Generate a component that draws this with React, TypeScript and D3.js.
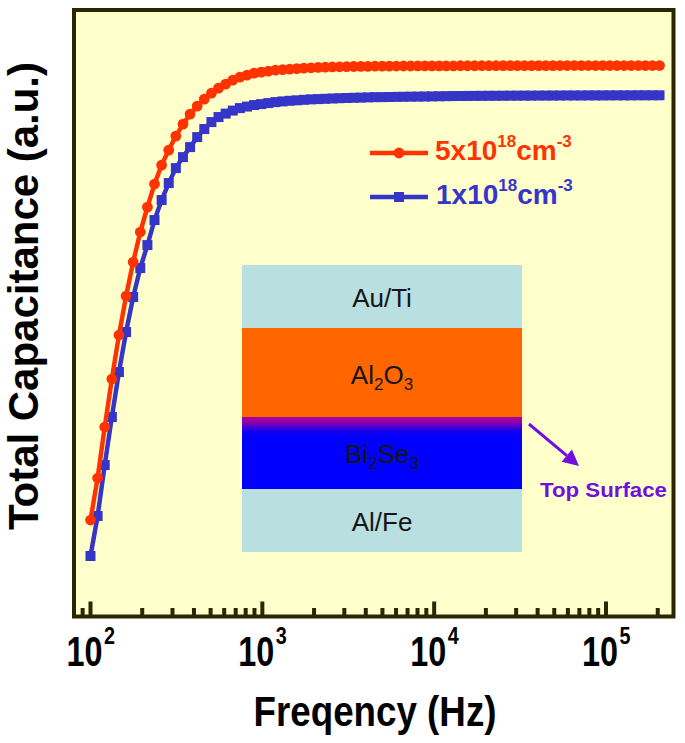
import React from 'react';
import * as d3 from 'd3';

// Frequency grid (Hz)
const frequencies = [100,110,121,133.1,146.41,161.05,177.16,194.87,214.36,235.79,259.37,285.31,313.84,345.23,379.75,417.72,459.5,505.45,555.99,611.59,672.75,740.02,814.03,895.43,984.97,1083.5,1191.8,1311,1442.1,1586.3,1745,1919.4,2111.4,2322.5,2554.8,2810.2,3091.3,3400.4,3740.4,4114.5,4525.9,4978.5,5476.4,6024,6626.4,7289,8017.9,8819.7,9701.7,10672,11739,12913,14204,15625,17187,18906,20797,22876,25164,27680,30448,33493,36842,40527,44579,49037,53940,59334,65268,71795,78974,86871,95558,105114,115626,127188,139907,153897,169287,186216,204838];

// Total capacitance (a.u.), 5x10^18 cm^-3
const capHigh = [17.45,25.09,34.36,43.09,51.09,58.18,64.36,69.82,74.36,78.55,
  82.0,84.73,87.27,89.45,91.27,92.73,94.0,95.09,96.0,96.73,
  97.45,98.0,98.36,98.73,98.91,99.09,99.27,99.36,99.45,99.55,
  99.64,99.69,99.75,99.8,99.84,99.87,99.91,99.93,99.95,99.96,
  99.98,100.0,100.0,100.01,100.02,100.02,100.03,100.03,100.04,100.04,
  100.05,100.05,100.06,100.06,100.06,100.07,100.07,100.07,100.08,100.08,
  100.08,100.08,100.09,100.09,100.09,100.09,100.1,100.1,100.1,100.1,
  100.1,100.1,100.1,100.1,100.1,100.1,100.1,100.1,100.1,100.1,100.1];

// Total capacitance (a.u.), 1x10^18 cm^-3
const capLow = [10.91,18.18,27.45,36.18,44.36,51.64,58.0,63.27,67.45,72.0,
  75.64,78.73,81.45,83.45,85.27,87.09,88.55,89.82,90.73,91.36,
  91.91,92.36,92.64,92.91,93.09,93.27,93.45,93.58,93.69,93.78,
  93.87,93.95,94.0,94.05,94.11,94.16,94.2,94.24,94.27,94.31,
  94.35,94.36,94.38,94.4,94.42,94.44,94.45,94.47,94.49,94.51,
  94.53,94.55,94.56,94.57,94.58,94.59,94.6,94.6,94.61,94.62,
  94.62,94.63,94.63,94.64,94.64,94.65,94.65,94.66,94.66,94.66,
  94.67,94.67,94.67,94.68,94.68,94.68,94.68,94.69,94.69,94.69,94.69];

const majorTicks = [100, 1000, 10000, 100000];
const majorExponents = ['2', '3', '4', '5'];
const minorTicks = [90, 200, 300, 400, 500, 600, 700, 800, 900, 2000, 3000, 4000, 5000, 6000, 7000, 8000, 9000, 20000, 30000, 40000, 50000, 60000, 70000, 80000, 90000, 200000];

const seriesNames = ['5x10', '1x10'];
const layers = ['Au/Ti', 'Al2O3', 'Bi2Se3', 'Al/Fe'];

const RED = '#ff3300';
const BLUE = '#3535c8';
const FRAME = '#2a2600';
const PURPLE = '#7010e0';
const FONT = "'Liberation Sans', Arial, sans-serif";

export default function App() {
  const left = 74, right = 673.5, top = 10, bottom = 616.5;
  const x = d3.scaleLog().domain([100, 100000]).range([90.5, 606]);
  const y = d3.scaleLinear().domain([0, 110.2]).range([616, 10]);
  const line = d3.line<number>().x((_, i) => x(frequencies[i])).y((d) => y(d));

  // inset geometry
  const ix0 = 242, ix1 = 522;
  const iy = [265, 328, 417, 489, 552];
  const icx = (ix0 + ix1) / 2;

  // arrow
  const ax0 = 529, ay0 = 424, ax1 = 579, ay1 = 466;
  const ang = Math.atan2(ay1 - ay0, ax1 - ax0);
  const hl = 16, hw = 8;
  const bx = ax1 - hl * Math.cos(ang), by = ay1 - hl * Math.sin(ang);
  const head = [
    [ax1, ay1],
    [bx + hw * Math.sin(ang), by - hw * Math.cos(ang)],
    [bx - hw * Math.sin(ang), by + hw * Math.cos(ang)],
  ].map((p) => p.join(',')).join(' ');

  const ms = 10; // square marker side
  const mr = 5.4; // circle marker radius

  return (
    <svg width={685} height={743} style={{ position: 'absolute', left: 0, top: 0, background: '#fff' }} fontFamily={FONT}>
      <defs>
        <linearGradient id="bise" x1="0" y1="0" x2="0" y2="1">
          <stop offset="0" stopColor="#a6009c" />
          <stop offset="0.06" stopColor="#9a00a6" />
          <stop offset="0.2" stopColor="#1000f0" />
          <stop offset="0.3" stopColor="#0000ff" />
          <stop offset="1" stopColor="#0000ff" />
        </linearGradient>
        <clipPath id="plotclip">
          <rect x={left} y={top} width={right - left} height={bottom - top} />
        </clipPath>
      </defs>
      <rect x={left} y={top} width={right - left} height={bottom - top} fill="#ffffcc" />

      {/* ticks */}
      {minorTicks.map((t) => (
        <line key={'mi' + t} x1={x(t)} x2={x(t)} y1={bottom} y2={bottom - 8.5} stroke={FRAME} strokeWidth={4} />
      ))}
      {majorTicks.map((t) => (
        <line key={'ma' + t} x1={x(t)} x2={x(t)} y1={bottom} y2={bottom - 15} stroke={FRAME} strokeWidth={4} />
      ))}

      {/* inset layer stack */}
      <rect x={ix0} y={iy[0]} width={ix1 - ix0} height={iy[1] - iy[0]} fill="#b9dfe1" />
      <rect x={ix0} y={iy[1]} width={ix1 - ix0} height={iy[2] - iy[1]} fill="#ff6600" />
      <rect x={ix0} y={iy[2]} width={ix1 - ix0} height={iy[3] - iy[2]} fill="url(#bise)" />
      <rect x={ix0} y={iy[3]} width={ix1 - ix0} height={iy[4] - iy[3]} fill="#b9dfe1" />
      <g fill="#151515" fontSize={26} textAnchor="middle">
        <text x={icx} y={307}>{layers[0]}</text>
        <text x={icx} y={384}>Al<tspan fontSize={17} dy={6}>2</tspan><tspan fontSize={26} dy={-6}>O</tspan><tspan fontSize={17} dy={6}>3</tspan></text>
        <text x={icx} y={463}>Bi<tspan fontSize={17} dy={6}>2</tspan><tspan fontSize={26} dy={-6}>Se</tspan><tspan fontSize={17} dy={6}>3</tspan></text>
        <text x={icx} y={531}>{layers[3]}</text>
      </g>

      {/* arrow + label */}
      <line x1={ax0} y1={ay0} x2={bx} y2={by} stroke={PURPLE} strokeWidth={3} />
      <polygon points={head} fill={PURPLE} />
      <text x={540} y={497} fontSize={21} fontWeight="bold" fill={PURPLE} textLength={127} lengthAdjust="spacingAndGlyphs">Top Surface</text>

      {/* curves */}
      <g clipPath="url(#plotclip)">
        <path d={line(capLow) || ''} fill="none" stroke={BLUE} strokeWidth={4.5} />
        {capLow.map((v, i) => (
          <rect key={'b' + i} x={x(frequencies[i]) - ms / 2} y={y(v) - ms / 2} width={ms} height={ms} fill={BLUE} />
        ))}
        <path d={line(capHigh) || ''} fill="none" stroke={RED} strokeWidth={4.5} />
        {capHigh.map((v, i) => (
          <circle key={'r' + i} cx={x(frequencies[i])} cy={y(v)} r={mr} fill={RED} />
        ))}
      </g>

      {/* legend */}
      <line x1={370} x2={428} y1={153} y2={153} stroke={RED} strokeWidth={4.5} />
      <circle cx={399} cy={153} r={mr} fill={RED} />
      <text x={435} y={160} fontSize={28} fontWeight="bold" fill={RED}>
        {seriesNames[0]}<tspan fontSize={17} dy={-13}>18</tspan><tspan fontSize={28} dy={13}>cm</tspan><tspan fontSize={17} dy={-13}>-3</tspan>
      </text>
      <line x1={370} x2={428} y1={197} y2={197} stroke={BLUE} strokeWidth={4.5} />
      <rect x={399 - ms / 2} y={197 - ms / 2} width={ms} height={ms} fill={BLUE} />
      <text x={436} y={204} fontSize={28} fontWeight="bold" fill={BLUE}>
        {seriesNames[1]}<tspan fontSize={17} dy={-13}>18</tspan><tspan fontSize={28} dy={13}>cm</tspan><tspan fontSize={17} dy={-13}>-3</tspan>
      </text>

      {/* frame */}
      <rect x={left} y={top} width={right - left} height={bottom - top} fill="none" stroke={FRAME} strokeWidth={4} />

      {/* x tick labels */}
      {majorTicks.map((t, i) => (
        <g key={'lab' + t} fontWeight="bold" fill="#000">
          <text x={x(t) - 24} y={666} fontSize={42} textLength={36} lengthAdjust="spacingAndGlyphs">10</text>
          <text x={x(t) + 13.5} y={644} fontSize={24} textLength={11} lengthAdjust="spacingAndGlyphs">{majorExponents[i]}</text>
        </g>
      ))}

      {/* axis titles */}
      <text x={375} y={726} fontSize={42} fontWeight="bold" textAnchor="middle" textLength={243} lengthAdjust="spacingAndGlyphs">Freqency (Hz)</text>
      <text transform="translate(38,296) rotate(-90)" fontSize={43} fontWeight="bold" textAnchor="middle" textLength={468} lengthAdjust="spacingAndGlyphs">Total Capacitance (a.u.)</text>
    </svg>
  );
}
